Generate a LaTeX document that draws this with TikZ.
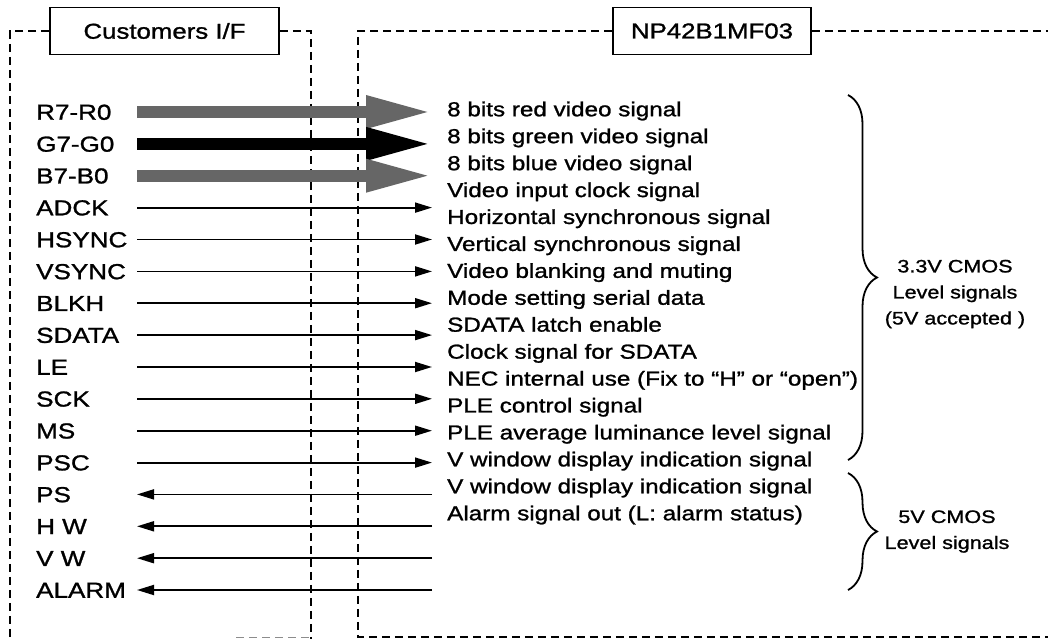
\documentclass[tikz,border=0pt]{standalone}
\usepackage{fontspec}
\newfontfamily\sigfont{Liberation Sans}[FakeStretch=1.2,FakeBold=1.2]
\usetikzlibrary{arrows.meta,decorations.pathreplacing}

\tikzset{
  dashframe/.style={line width=1.8pt, dash pattern=on 8pt off 5pt},
  ifbox/.style={draw, line width=1.8pt, minimum height=47pt, font=\sigfont\fontsize{21.5pt}{26pt}\selectfont},
  port/.style={anchor=west, inner sep=0pt, text height=15.5pt, text depth=0pt, font=\sigfont\fontsize{21.7pt}{26pt}\selectfont},
  desc/.style={anchor=west, inner sep=0pt, text height=14.5pt, text depth=0pt, font=\sigfont\fontsize{20.2pt}{26pt}\selectfont},
  sig/.style={line width=1.8pt, -{Triangle[length=17pt,width=10pt]}},
  bus/.style={line width=12pt, -{Triangle[length=66pt,width=30pt]}},
  lvl/.style={decorate, decoration={brace,amplitude=29pt}, line width=1.8pt},
  lvltext/.style={align=center, font=\sigfont\fontsize{18pt}{26pt}\selectfont}
}

\begin{document}
\begin{tikzpicture}[x=1pt,y=-1pt]
    \useasboundingbox (0,0) rectangle (1048,639);

    % frames
    \node[ifbox, minimum width=229pt] (cust) at (164.5,31) {Customers I/F};
    \node[ifbox, minimum width=198pt] (np) at (712,31) {NP42B1MF03};
    \draw[dashframe] (cust.west) -- (10,31) -- (10,639);
    \draw[dashframe] (cust.east) -- (311,31) -- (311,639);
    \draw[dashframe, black!45, line width=1pt] (236,637) -- (311,637);
    \draw[dashframe] (np.west) -- (358,31) -- (358,637) -- (1048,637);
    \draw[dashframe] (np.east) -- (1048,31);

    % customer side pins
    \node[port] (r) at (36,112) {R7-R0};
    \node[port] (g) at (36,143.9) {G7-G0};
    \node[port] (b) at (36,175.7) {B7-B0};
    \node[port] (adck) at (36,207.6) {ADCK};
    \node[port] (hsync) at (36,239.5) {HSYNC};
    \node[port] (vsync) at (36,271.4) {VSYNC};
    \node[port] (blkh) at (36,303.2) {BLKH};
    \node[port] (sdata) at (36,335.1) {SDATA};
    \node[port] (le) at (36,367) {LE};
    \node[port] (sck) at (36,398.8) {SCK};
    \node[port] (ms) at (36,430.7) {MS};
    \node[port] (psc) at (36,462.6) {PSC};
    \node[port] (ps) at (36,494.4) {PS};
    \node[port] (hw) at (36,526.3) {H W};
    \node[port] (vw) at (36,558.2) {V W};
    \node[port] (alarm) at (36,590) {ALARM};

    % module side descriptions
    \node[desc] (red) at (447,109) {8 bits red video signal};
    \node[desc] (green) at (447,135.9) {8 bits green video signal};
    \node[desc] (blue) at (447,162.9) {8 bits blue video signal};
    \node[desc] (clk) at (447,189.8) {Video input clock signal};
    \node[desc] (hsig) at (447,216.7) {Horizontal synchronous signal};
    \node[desc] (vsig) at (447,243.7) {Vertical synchronous signal};
    \node[desc] (blank) at (447,270.6) {Video blanking and muting};
    \node[desc] (mode) at (447,297.5) {Mode setting serial data};
    \node[desc] (latch) at (447,324.4) {SDATA latch enable};
    \node[desc] (sclk) at (447,351.4) {Clock signal for SDATA};
    \node[desc] (nec) at (447,378.3) {NEC internal use (Fix to “H” or “open”)};
    \node[desc] (plec) at (447,405.2) {PLE control signal};
    \node[desc] (plel) at (447,432.2) {PLE average luminance level signal};
    \node[desc] (vwin) at (447,459.1) {V window display indication signal};
    \node[desc] (vwout) at (447,486) {V window display indication signal};
    \node[desc] (alm) at (447,513) {Alarm signal out (L: alarm status)};

    % arrows
    \coordinate (sx) at (137,0);
    \coordinate (ex) at (432,0);
    \draw[bus, black!60] (r -| sx) -- (r -| ex);
    \draw[bus] (g -| sx) -- (g -| ex);
    \draw[bus, black!60] (b -| sx) -- (b -| ex);
    \draw[sig] (adck -| sx) -- (adck -| ex);
    \draw[sig] (hsync -| sx) -- (hsync -| ex);
    \draw[sig] (vsync -| sx) -- (vsync -| ex);
    \draw[sig] (blkh -| sx) -- (blkh -| ex);
    \draw[sig] (sdata -| sx) -- (sdata -| ex);
    \draw[sig] (le -| sx) -- (le -| ex);
    \draw[sig] (sck -| sx) -- (sck -| ex);
    \draw[sig] (ms -| sx) -- (ms -| ex);
    \draw[sig] (psc -| sx) -- (psc -| ex);
    \draw[sig] (ps -| ex) -- (ps -| sx);
    \draw[sig] (hw -| ex) -- (hw -| sx);
    \draw[sig] (vw -| ex) -- (vw -| sx);
    \draw[sig] (alarm -| ex) -- (alarm -| sx);

    % level braces
    \coordinate (l1a) at (848,95);
    \coordinate (l1b) at (848,460);
    \coordinate (l2a) at (848,473);
    \coordinate (l2b) at (848,590);
    \draw[lvl] (l1a) -- (l1b);
    \draw[lvl] (l2a) -- (l2b);
    \node[lvltext] (cmos33) at (955,294) {3.3V CMOS\\Level signals\\(5V accepted )};
    \node[lvltext] (cmos5) at (947,531.5) {5V CMOS\\Level signals};
\end{tikzpicture}
\end{document}
